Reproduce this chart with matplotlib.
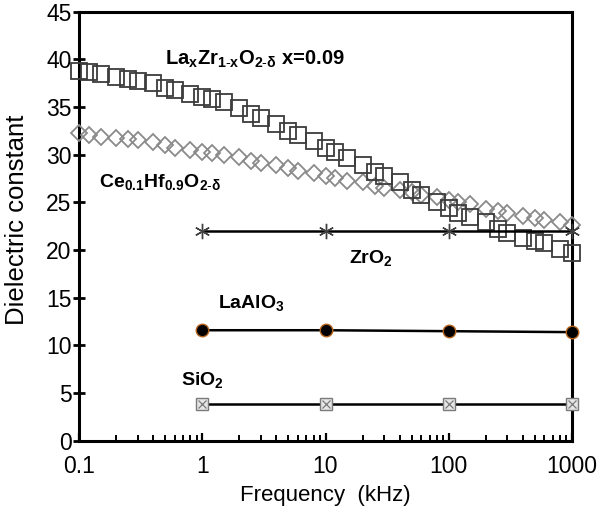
import numpy as np
import matplotlib
matplotlib.use("Agg")
import matplotlib.pyplot as plt
from matplotlib.ticker import FixedLocator, FixedFormatter, LogLocator, NullFormatter

plt.rcParams['font.family'] = ['Liberation Sans', 'DejaVu Sans']
plt.rcParams['mathtext.fontset'] = 'custom'
plt.rcParams['mathtext.rm'] = 'Liberation Sans'
plt.rcParams['mathtext.bf'] = 'Liberation Sans:bold'
plt.rcParams['mathtext.it'] = 'Liberation Sans:italic'

# 周波数 (kHz)
freq = [0.1, 0.12, 0.15, 0.2, 0.25, 0.3, 0.4, 0.5, 0.6, 0.8,
        1, 1.2, 1.5, 2, 2.5, 3, 4, 5, 6, 8,
        10, 12, 15, 20, 25, 30, 40, 50, 60, 80,
        100, 120, 150, 200, 250, 300, 400, 500, 600, 800,
        1000]

# La_xZr_{1-x}O_{2-d} x=0.09
lazr = [38.8, 38.7, 38.5, 38.2, 37.9, 37.7, 37.5, 37.0, 36.8, 36.4,
        36.1, 35.9, 35.5, 34.9, 34.3, 33.9, 33.2, 32.5, 32.1, 31.4,
        30.7, 30.3, 29.7, 28.9, 28.2, 27.8, 27.1, 26.3, 25.8, 25.1,
        24.4, 23.9, 23.5, 22.9, 22.2, 21.8, 21.3, 21.0, 20.8, 20.1,
        19.7]

# Ce0.1Hf0.9O2-d
cehf = [32.3, 32.1, 31.9, 31.8, 31.7, 31.5, 31.3, 31.0, 30.7, 30.5,
        30.3, 30.2, 30.0, 29.8, 29.3, 29.1, 28.9, 28.6, 28.3, 28.1,
        27.8, 27.6, 27.2, 27.1, 26.7, 26.5, 26.3, 26.1, 25.8, 25.6,
        25.3, 25.1, 24.8, 24.3, 24.1, 23.9, 23.6, 23.4, 23.2, 23.0,
        22.6]

# 参照材料
ref_freq = [1, 10, 100, 1000]
zro2 = [22.0, 22.0, 22.0, 22.0]
laalo3 = [11.6, 11.6, 11.5, 11.4]
sio2 = [3.9, 3.9, 3.9, 3.9]

xticks = [0.1, 1, 10, 100, 1000]
xticklabels = ['0.1', '1', '10', '100', '1000']
yticks = list(range(0, 46, 5))

fig = plt.figure(figsize=(6.0, 5.12), dpi=100)
ax = fig.add_axes([0.132, 0.139, 0.821, 0.838])

ax.plot(freq, cehf, linestyle='none', marker='D', ms=8.5, mfc='none',
        mec='#8a8a8a', mew=1.3, zorder=3, clip_on=False)
ax.plot(freq, lazr, linestyle='none', marker='s', ms=11.5, mfc='none',
        mec='#3c3c3c', mew=1.3, zorder=4, clip_on=False)

ax.plot(ref_freq, zro2, color='black', lw=1.8, marker=(6, 2, 0), ms=11,
        mec='#404040', mew=1.0, zorder=5, clip_on=False)
ax.plot(ref_freq, laalo3, color='black', lw=1.8, marker='o', ms=9,
        mfc='black', mec='#b5651d', mew=1.0, zorder=5, clip_on=False)
ax.plot(ref_freq, sio2, color='black', lw=1.8, marker='s', ms=9,
        mfc='#e6e6e6', mec='#7a7a7a', mew=1.0, zorder=5, clip_on=False)
ax.plot(ref_freq, sio2, linestyle='none', marker='x', ms=6,
        mec='#7a7a7a', mew=0.9, zorder=6, clip_on=False)

# 軸設定
ax.set_xscale('log')
ax.set_xlim(0.1, 1000)
ax.set_ylim(0, 45)
ax.xaxis.set_major_locator(FixedLocator(xticks))
ax.xaxis.set_major_formatter(FixedFormatter(xticklabels))
ax.xaxis.set_minor_locator(LogLocator(base=10, subs=np.arange(2, 10)))
ax.xaxis.set_minor_formatter(NullFormatter())
ax.set_yticks(yticks)

for s in ax.spines.values():
    s.set_linewidth(2.2)
ax.tick_params(axis='y', direction='inout', length=9, width=2.0,
               labelsize=16.5, pad=1)
ax.tick_params(axis='x', which='major', direction='in', length=6, width=1.6,
               labelsize=16.5, pad=10)
ax.tick_params(axis='x', which='minor', direction='in', length=4, width=1.4)

ax.set_xlabel('Frequency  (kHz)', fontsize=16, labelpad=5)
ax.set_ylabel('Dielectric constant', fontsize=18.5)
ax.yaxis.set_label_coords(-0.102, 0.515)

# ラベル
ax.text(0.5, 40.0,
        r'$\mathbf{La_xZr_{1\text{-}x}O_{2\text{-}\delta}}$ x=0.09',
        fontsize=14.5, fontweight='bold', va='center', ha='left')
ax.text(0.145, 27.1, r'$\mathbf{Ce_{0.1}Hf_{0.9}O_{2\text{-}\delta}}$',
        fontsize=14, va='center', ha='left')
ax.text(15.4, 19.2, r'$\mathbf{ZrO_2}$', fontsize=14, va='center', ha='left')
ax.text(1.35, 14.5, r'$\mathbf{LaAlO_3}$', fontsize=14, va='center', ha='left')
ax.text(0.675, 6.4, r'$\mathbf{SiO_2}$', fontsize=14, va='center', ha='left')

plt.savefig('out.png', dpi=100)
